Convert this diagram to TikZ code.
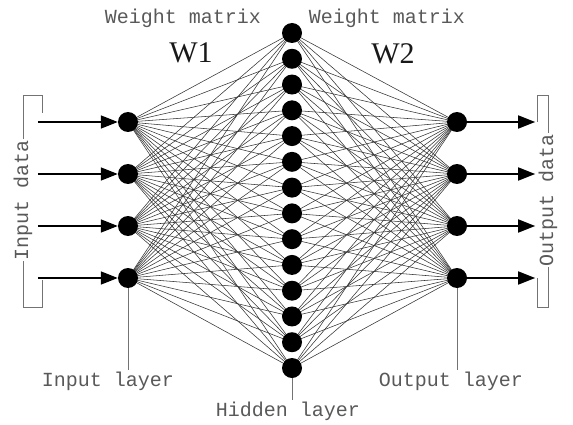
\documentclass[tikz,border=0pt]{standalone}
\usepackage{fontspec}
\setmainfont{Liberation Serif}
\setmonofont{Liberation Mono}
\usetikzlibrary{arrows.meta, positioning, backgrounds}

\begin{document}
\begin{tikzpicture}[
    x=1pt, y=-1pt,
    neuron/.style={circle, fill=black, inner sep=0pt, minimum size=20pt},
    link/.style={draw=black!80, line width=0.55pt},
    arrow/.style={-{Triangle[length=17pt, width=13pt]}, line width=1.6pt},
    tag/.style={font=\fontsize{20}{20}\selectfont\ttfamily, text=black!65, inner sep=1pt},
    bracket/.style={draw=black!55, line width=0.9pt},
    pointer/.style={draw=black!55, line width=0.7pt},
    wlabel/.style={font=\fontsize{30}{30}\selectfont, text=black!90}
]
\useasboundingbox (0,0) rectangle (573,425);

% Layers
\foreach \i in {1,...,4}{
  \node[neuron] (in\i) at (128, {122 + 52*(\i-1)}) {};
  \node[neuron] (out\i) at (457, {122 + 52*(\i-1)}) {};
}
\foreach \j in {1,...,14}
  \node[neuron] (hid\j) at (292, {33 + 25.77*(\j-1)}) {};

% Weights
\begin{pgfonlayer}{background}
\foreach \i in {1,...,4}
  \foreach \j in {1,...,14}{
    \draw[link] (in\i.center) -- (hid\j.center);
    \draw[link] (hid\j.center) -- (out\i.center);
  }
\end{pgfonlayer}

% Data arrows
\foreach \i in {1,...,4}{
  \path (in\i.west) ++(-80,0) coordinate (src\i);
  \path (out\i.east) ++(68,0) coordinate (dst\i);
  \draw[arrow] (src\i) -- (in\i);
  \draw[arrow] (out\i) -- (dst\i);
}

% Brackets
\draw[bracket] (42,113) -- (42,95) -- (23,95) -- (23,307) -- (42,307) -- (42,280);
\node[tag, rotate=90, fill=white] (indata) at (23,200) {Input data};
\draw[bracket] (537,122) -- (537,95) -- (548,95) -- (548,307) -- (537,307) -- (537,278);
\node[tag, rotate=90, fill=white] (outdata) at (548,200) {Output data};

% Matrix labels
\node[tag] (w1tag) at (183,18) {Weight matrix};
\node[tag] (w2tag) at (387,18) {Weight matrix};
\node[wlabel] (w1) at (191,53) {W1};
\node[wlabel] (w2) at (393,54) {W2};

% Layer labels
\node[tag] (inlayer) at (108,381) {Input layer};
\node[tag] (hidlayer) at (288,411) {Hidden layer};
\node[tag] (outlayer) at (451,381) {Output layer};
\draw[pointer] (in4.south) -- (in4.south |- inlayer.north);
\draw[pointer] (hid14.south) -- (hid14.south |- hidlayer.north);
\draw[pointer] (out4.south) -- (out4.south |- outlayer.north);

\end{tikzpicture}
\end{document}
